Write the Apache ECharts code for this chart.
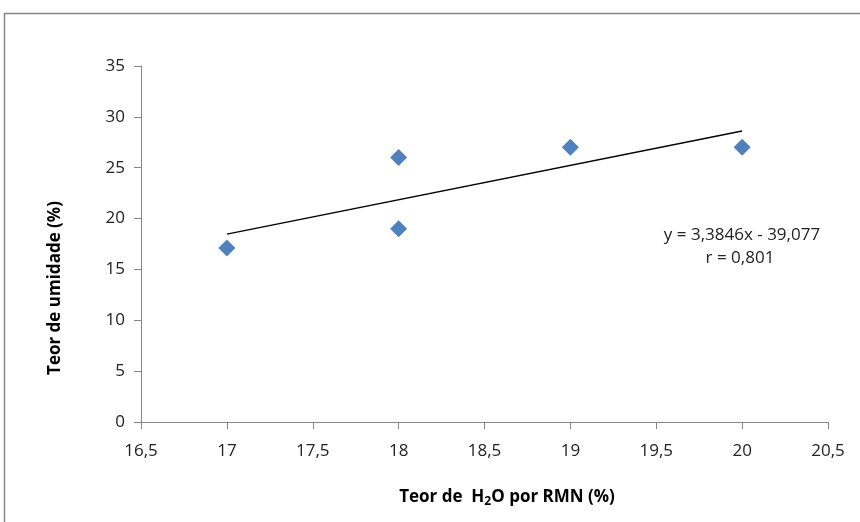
<!DOCTYPE html>
<html><head><meta charset="utf-8">
<script src="https://cdn.jsdelivr.net/npm/echarts@6/dist/echarts.min.js"></script>
<style>html,body{margin:0;padding:0;background:#fff}#c{width:860px;height:522px}</style>
</head><body><div id="c"></div>
<script>
var pointsX = [17, 18, 18, 19, 20];
var pointsY = [17.1, 26, 19, 27, 27];
var trendX = [17, 20];
var trendY = [18.46, 28.61];
var yTitle = 'Teor de umidade (%)';
var eqText = ['y = 3,3846x - 39,077', 'r = 0,801'];

var chart = echarts.init(document.getElementById('c'), null, {renderer: 'canvas'});
var axisColor = '#868686';
var font = '"Open Sans", "Liberation Sans", sans-serif';
function fmt(v){ return String(v).replace('.', ','); }
chart.setOption({
  animation: false,
  backgroundColor: '#fff',
  grid: {left: 141, right: 32, top: 66, bottom: 100},
  xAxis: {
    type: 'value', min: 16.5, max: 20.5, interval: 0.5,
    axisLine: {show: true, lineStyle: {color: axisColor, width: 1}},
    axisTick: {show: true, length: 7, lineStyle: {color: axisColor}},
    splitLine: {show: false},
    axisLabel: {formatter: fmt, color: '#222', fontSize: 17, fontFamily: font, margin: 21}
  },
  yAxis: {
    type: 'value', min: 0, max: 35, interval: 5,
    axisLine: {show: true, lineStyle: {color: axisColor, width: 1}},
    axisTick: {show: true, length: 7, lineStyle: {color: axisColor}},
    splitLine: {show: false},
    axisLabel: {formatter: fmt, color: '#222', fontSize: 17, fontFamily: font, margin: 16}
  },
  series: [
    {type: 'line', data: trendX.map(function(x,i){return [x, trendY[i]];}),
     symbol: 'none', lineStyle: {color: '#000', width: 1.3}, z: 2},
    {type: 'scatter', data: pointsX.map(function(x,i){return [x, pointsY[i]];}),
     symbol: 'diamond', symbolSize: [17, 17], itemStyle: {color: '#4F81BD', opacity: 1}, z: 3}
  ],
  graphic: [
    {type: 'rect', shape: {x: 4.5, y: 13.5, width: 900, height: 600},
     style: {fill: 'none', stroke: '#888', lineWidth: 1.5}, z: -1, silent: true},
    {type: 'text', x: 55, y: 288, rotation: Math.PI/2,
     style: {text: yTitle, font: 'bold 17px "Open Sans", sans-serif', fill: '#000', align: 'center', verticalAlign: 'middle'}},
    {type: 'text', x: 507, y: 497,
     style: {text: 'Teor de  H{sub|2}O por RMN (%)', font: 'bold 17px "Open Sans", sans-serif', fill: '#000', align: 'center', verticalAlign: 'middle',
       rich: {sub: {font: 'bold 12px "Open Sans", sans-serif', fill: '#000', verticalAlign: 'bottom', padding: [9,0,0,0]}}}},
    {type: 'text', x: 742, y: 235,
     style: {text: eqText[0], font: '17px ' + font, fill: '#222', align: 'center', verticalAlign: 'middle'}},
    {type: 'text', x: 740, y: 258,
     style: {text: eqText[1], font: '17px ' + font, fill: '#222', align: 'center', verticalAlign: 'middle'}}
  ]
});
</script></body></html>
